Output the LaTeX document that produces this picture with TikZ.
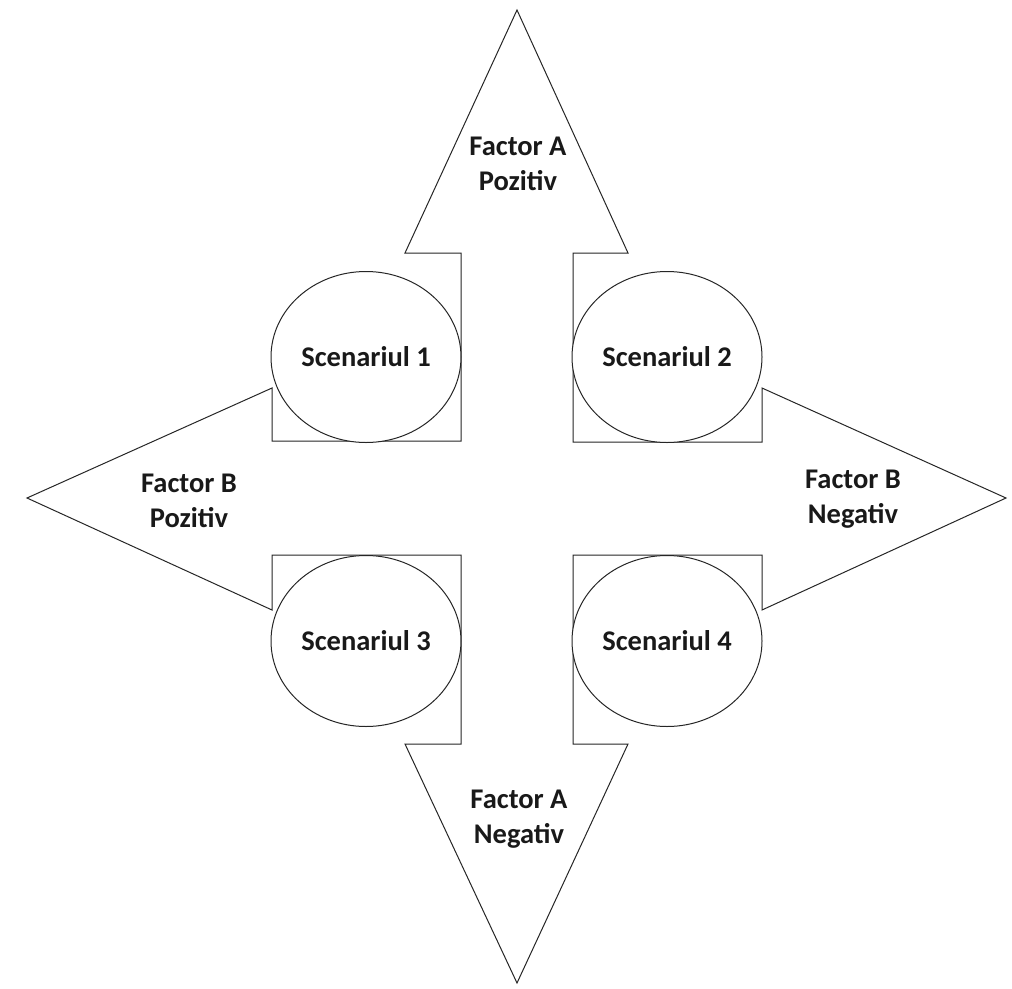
\documentclass[tikz,border=0pt]{standalone}
\usepackage{fontspec}
\setmainfont{Carlito}
\usetikzlibrary{shapes.geometric}
\tikzset{
  outline/.style={draw=black!85, line width=1pt, fill=white},
  scen/.style={ellipse, draw=black!85, line width=1pt, fill=white, inner sep=0pt,
    minimum width=190pt, minimum height=171pt, font=\bfseries\fontsize{28.5}{36}\selectfont, text=black!90},
  lbl/.style={align=center, font=\bfseries\fontsize{28.5}{35.5}\selectfont, text=black!90, inner sep=0pt}
}
\begin{document}
\begin{tikzpicture}[x=1pt,y=-1pt]
\useasboundingbox (0,0) rectangle (1012,988);
% four-way arrow outline
\draw[outline] (517,10) -- (628,253) -- (573,253) -- (573,442) -- (762,442) -- (762,388)
  -- (1006,498) -- (762,610) -- (762,555) -- (573,555) -- (573,744) -- (628,744)
  -- (517,983) -- (405,744) -- (461,744) -- (461,555) -- (272,555) -- (272,610)
  -- (27,498) -- (272,388) -- (272,441) -- (461,441) -- (461,253) -- (405,253) -- cycle;
% scenarios
\node[scen] (s1) at (366,357) {Scenariul 1};
\node[scen] (s2) at (667,357) {Scenariul 2};
\node[scen] (s3) at (366,641) {Scenariul 3};
\node[scen] (s4) at (667,641) {Scenariul 4};
% labels
\node[lbl] (ap) at (518,164) {Factor A\\Pozitiv};
\node[lbl] (an) at (519,819) {Factor A\\Negativ};
\node[lbl] (bp) at (189,501) {Factor B\\Pozitiv};
\node[lbl] (bn) at (853,499) {Factor B\\Negativ};
\end{tikzpicture}
\end{document}
